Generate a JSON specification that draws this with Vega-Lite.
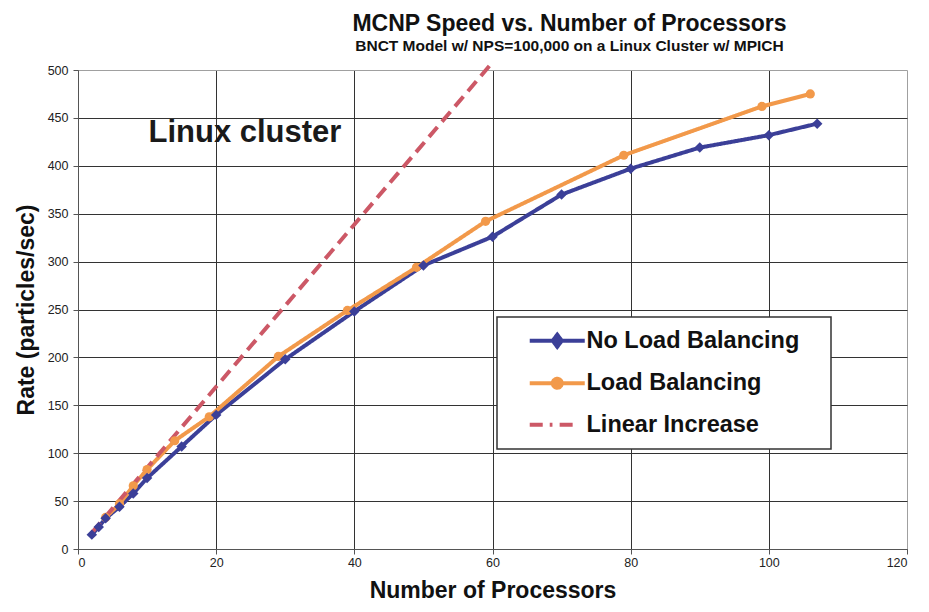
{
  "$schema": "https://vega.github.io/schema/vega-lite/v6.json",
  "width": 829,
  "height": 479,
  "autosize": {"type": "none"},
  "padding": {"left": 78, "top": 70, "right": 22, "bottom": 63},
  "background": "white",
  "title": {
    "text": "MCNP Speed vs. Number of Processors",
    "subtitle": "BNCT Model w/ NPS=100,000 on a Linux Cluster w/ MPICH",
    "anchor": "middle",
    "dx": 77,
    "font": "Liberation Sans",
    "fontSize": 23,
    "fontWeight": "bold",
    "color": "#111111",
    "subtitleFont": "Liberation Sans",
    "subtitleFontSize": 15.5,
    "subtitleFontWeight": "bold",
    "subtitleColor": "#111111",
    "subtitlePadding": 3,
    "offset": 0
  },
  "datasets": {
    "speed": [
      {"series": "No Load Balancing", "n": 2, "rate": 15},
      {"series": "No Load Balancing", "n": 3, "rate": 23},
      {"series": "No Load Balancing", "n": 4, "rate": 32},
      {"series": "No Load Balancing", "n": 6, "rate": 44},
      {"series": "No Load Balancing", "n": 8, "rate": 58},
      {"series": "No Load Balancing", "n": 10, "rate": 74},
      {"series": "No Load Balancing", "n": 15, "rate": 107},
      {"series": "No Load Balancing", "n": 20, "rate": 140},
      {"series": "No Load Balancing", "n": 30, "rate": 198},
      {"series": "No Load Balancing", "n": 40, "rate": 248},
      {"series": "No Load Balancing", "n": 50, "rate": 296},
      {"series": "No Load Balancing", "n": 60, "rate": 326},
      {"series": "No Load Balancing", "n": 70, "rate": 370},
      {"series": "No Load Balancing", "n": 80, "rate": 397},
      {"series": "No Load Balancing", "n": 90, "rate": 419},
      {"series": "No Load Balancing", "n": 100, "rate": 432},
      {"series": "No Load Balancing", "n": 107, "rate": 444},
      {"series": "Load Balancing", "n": 4, "rate": 33},
      {"series": "Load Balancing", "n": 6, "rate": 47},
      {"series": "Load Balancing", "n": 8, "rate": 66},
      {"series": "Load Balancing", "n": 10, "rate": 83},
      {"series": "Load Balancing", "n": 14, "rate": 113},
      {"series": "Load Balancing", "n": 19, "rate": 138},
      {"series": "Load Balancing", "n": 29, "rate": 201},
      {"series": "Load Balancing", "n": 39, "rate": 249},
      {"series": "Load Balancing", "n": 49, "rate": 294},
      {"series": "Load Balancing", "n": 59, "rate": 342},
      {"series": "Load Balancing", "n": 79, "rate": 411},
      {"series": "Load Balancing", "n": 99, "rate": 462},
      {"series": "Load Balancing", "n": 106, "rate": 475},
      {"series": "Linear Increase", "n": 2, "rate": 17},
      {"series": "Linear Increase", "n": 60, "rate": 508}
    ],
    "note": [
      {"label": "Linux cluster", "n": 10.2, "rate": 434}
    ]
  },
  "layer": [
    {
      "data": {"name": "speed"},
      "mark": {"type": "line", "strokeWidth": 4},
      "encoding": {
        "x": {
          "field": "n",
          "type": "quantitative",
          "scale": {"domain": [0, 120], "nice": false, "zero": true},
          "axis": {
            "values": [0, 20, 40, 60, 80, 100, 120],
            "title": "Number of Processors",
            "gridColor": {"condition": {"test": "datum.value === 120", "value": "#a0a0a0"}, "value": "#333333"}
          }
        },
        "y": {
          "field": "rate",
          "type": "quantitative",
          "scale": {"domain": [0, 500], "nice": false},
          "axis": {
            "values": [0, 50, 100, 150, 200, 250, 300, 350, 400, 450, 500],
            "title": "Rate (particles/sec)",
            "gridColor": {"condition": {"test": "datum.value === 500", "value": "#a0a0a0"}, "value": "#333333"}
          }
        },
        "color": {
          "field": "series",
          "type": "nominal",
          "scale": {
            "domain": ["No Load Balancing", "Load Balancing", "Linear Increase"],
            "range": ["#3b3f98", "#f2994a", "#cc5866"]
          },
          "legend": {
            "title": null,
            "orient": "none",
            "legendX": 419,
            "legendY": 247,
            "direction": "vertical",
            "padding": 12,
            "symbolOffset": 36.5,
            "symbolSize": 256,
            "symbolStrokeWidth": 4,
            "labelFont": "Liberation Sans",
            "labelFontSize": 23.5,
            "labelFontWeight": "bold",
            "labelColor": "#111111",
            "labelOffset": 17.5,
            "labelLimit": 400,
            "rowPadding": 15.5,
            "strokeColor": "#333333",
            "fillColor": "white",
            "encode": {
              "symbols": {
                "update": {
                  "shape": {"signal": "datum.value === 'No Load Balancing' ? 'M-3.44,0L3.44,0M0,-0.75L0.56,0L0,0.75L-0.56,0ZM31.7,0' : (datum.value === 'Load Balancing' ? 'M-3.44,0L3.44,0M0.56,0A0.56,0.56,0,1,1,-0.56,0A0.56,0.56,0,1,1,0.56,0ZM31.7,0' : 'M-3.44,0L-0.6,0M0.3,0L2.8,0M31.7,0')"},
                  "stroke": {"scale": "color", "field": "value"},
                  "fill": {"scale": "color", "field": "value"},
                  "fillOpacity": {"value": 1},
                  "strokeOpacity": {"value": 1},
                  "strokeDash": {"value": [1000, 0]}
                }
              },
              "legend": {"update": {"strokeWidth": {"value": 1.5}}}
            }
          }
        },
        "strokeDash": {
          "field": "series",
          "type": "nominal",
          "scale": {
            "domain": ["No Load Balancing", "Load Balancing", "Linear Increase"],
            "range": [[1, 0], [1, 0], [13, 7]]
          },
          "legend": null
        }
      }
    },
    {
      "data": {"name": "speed"},
      "transform": [{"filter": "datum.series === 'Load Balancing'"}],
      "mark": {"type": "point", "shape": "circle", "filled": true, "size": 85, "color": "#f2994a", "opacity": 1},
      "encoding": {
        "x": {"field": "n", "type": "quantitative"},
        "y": {"field": "rate", "type": "quantitative"}
      }
    },
    {
      "data": {"name": "speed"},
      "transform": [{"filter": "datum.series === 'No Load Balancing'"}],
      "mark": {"type": "point", "shape": "diamond", "filled": true, "size": 110, "color": "#3b3f98", "opacity": 1},
      "encoding": {
        "x": {"field": "n", "type": "quantitative"},
        "y": {"field": "rate", "type": "quantitative"}
      }
    },
    {
      "data": {"name": "note"},
      "mark": {"type": "text", "align": "left", "baseline": "middle", "font": "Liberation Sans", "fontSize": 31, "fontWeight": "bold", "color": "#1a1a1a"},
      "encoding": {
        "x": {"field": "n", "type": "quantitative"},
        "y": {"field": "rate", "type": "quantitative"},
        "text": {"field": "label"}
      }
    }
  ],
  "config": {
    "view": {"stroke": null},
    "axis": {
      "grid": true,
      "gridWidth": 1,
      "domainColor": "#555555",
      "tickColor": "#555555",
      "tickSize": 5,
      "labelFont": "Liberation Sans",
      "labelFontSize": 12.5,
      "labelColor": "#222222",
      "titleFont": "Liberation Sans",
      "titleFontSize": 23,
      "titleFontWeight": "bold",
      "titleColor": "#111111"
    },
    "axisX": {"labelPadding": 2, "titlePadding": 11},
    "axisY": {"labelPadding": 5, "titlePadding": 9}
  }
}
